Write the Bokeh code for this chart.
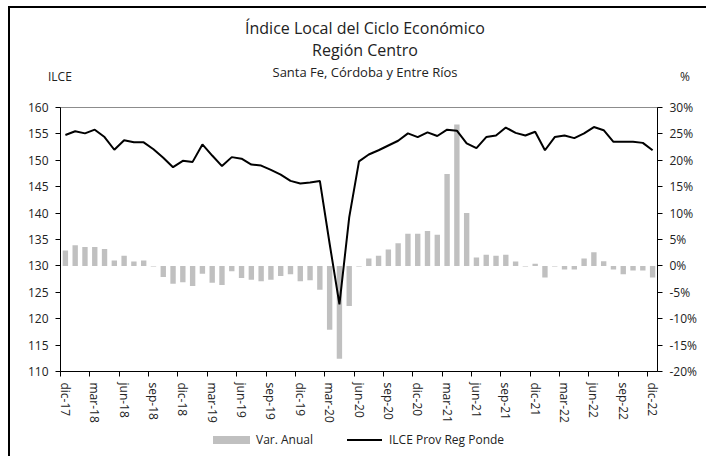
from bokeh.plotting import figure
from bokeh.layouts import column
from bokeh.models import (Range1d, LinearAxis, FixedTicker,
                          CustomJSTickFormatter, Div)
from bokeh.embed import file_html
from bokeh.resources import INLINE

# ---- data -------------------------------------------------------------
tick_labels = ["dic-17", "mar-18", "jun-18", "sep-18", "dic-18", "mar-19",
               "jun-19", "sep-19", "dic-19", "mar-20", "jun-20", "sep-20",
               "dic-20", "mar-21", "jun-21", "sep-21", "dic-21", "mar-22",
               "jun-22", "sep-22", "dic-22"]

# Var. Anual (%), monthly dic-17 .. dic-22
var_anual = [2.9, 3.9, 3.6, 3.6, 3.2, 1.0, 1.9, 0.85, 1.0, -0.1,
             -2.1, -3.4, -3.1, -3.8, -1.5, -3.2, -3.6, -1.0, -2.3, -2.6,
             -2.9, -2.6, -1.9, -1.6, -2.9, -2.7, -4.5, -12.1, -17.6, -7.6,
             -0.1, 1.4, 1.9, 3.1, 4.3, 6.1, 6.1, 6.6, 5.9, 17.4,
             26.8, 10.0, 1.6, 2.1, 1.9, 2.1, 0.85, -0.1, 0.4, -2.2,
             -0.1, -0.7, -0.7, 1.4, 2.6, 0.9, -0.7, -1.6, -0.85, -0.85, -2.2]

# ILCE Prov Reg Ponde (index)
ilce = [154.8, 155.5, 155.1, 155.8, 154.4, 152.0, 153.8, 153.4, 153.4, 152.1,
        150.5, 148.7, 149.9, 149.7, 153.0, 150.9, 148.9, 150.6, 150.3, 149.2,
        149.0, 148.2, 147.3, 146.1, 145.6, 145.8, 146.1, 134.2, 122.7, 139.2,
        149.8, 151.1, 151.9, 152.8, 153.7, 155.1, 154.4, 155.3, 154.6, 155.8,
        155.6, 153.2, 152.3, 154.4, 154.7, 156.2, 155.2, 154.7, 155.4, 151.9,
        154.4, 154.7, 154.2, 155.1, 156.3, 155.7, 153.5, 153.5, 153.5, 153.3, 151.9]

title_1 = "Índice Local del Ciclo Económico"
title_2 = "Región Centro"
subtitle = "Santa Fe, Córdoba y Entre Ríos"
left_unit = "ILCE"
right_unit = "%"
series_names = ["Var. Anual", "ILCE Prov Reg Ponde"]

idx = list(range(len(ilce)))
label_pos = list(range(0, len(ilce), 3))

FONT = "Open Sans"
TXT = "#222222"
BAR = "#c0c0c0"
W = 696
HEAD_H = 85
FOOT_H = 30

# ---- header (titles) ---------------------------------------------------
def txt(x, y, text, size, anchor="-50%"):
    return (f'<div style="position:absolute;left:{x}px;top:{y}px;'
            f'transform:translate({anchor},-50%);white-space:nowrap;'
            f'font-size:{size}px;line-height:1;">{text}</div>')

def box(x, y, w, h, color):
    return (f'<div style="position:absolute;left:{x}px;top:{y}px;width:{w}px;'
            f'height:{h}px;background:{color};"></div>')

head_html = (f'<div style="position:relative;width:{W}px;height:{HEAD_H}px;'
             f'font-family:\'{FONT}\';color:{TXT};">'
             + txt(355, 20, title_1, 16)
             + txt(355, 42, title_2, 16)
             + txt(355, 64, subtitle, 13)
             + txt(38, 69, left_unit, 12, "0%")
             + txt(675, 69, right_unit, 12)
             + '</div>')
header = Div(text=head_html, width=W, height=HEAD_H, margin=(0, 0, 0, 0))

# ---- legend (footer) ----------------------------------------------------
foot_html = (f'<div style="position:relative;width:{W}px;height:{FOOT_H}px;'
             f'font-family:\'{FONT}\';color:{TXT};">'
             + box(203, 10, 37, 8, BAR)
             + txt(246, 14, series_names[0], 12, "0%")
             + box(337, 13, 35, 2, "black")
             + txt(379, 14, series_names[1], 12, "0%")
             + '</div>')
footer = Div(text=foot_html, width=W, height=FOOT_H, margin=(0, 0, 0, 0))

# ---- figure -------------------------------------------------------------
p = figure(width=W, height=333, x_range=Range1d(-0.5, 60.5),
           y_range=Range1d(110, 160), output_backend="svg",
           toolbar_location=None, min_border_left=50, min_border_right=49,
           min_border_top=14, min_border_bottom=55, margin=(0, 0, 0, 0))
p.extra_y_ranges = {"pct": Range1d(-20, 30)}
p.xgrid.visible = False
p.ygrid.visible = False
p.outline_line_color = "#8c8c8c"

p.vbar(x=idx, top=var_anual, bottom=0, width=0.55,
       fill_color=BAR, line_color=None, y_range_name="pct")
p.line(x=idx, y=ilce, line_color="black", line_width=2)

# x axis
xa = p.xaxis[0]
xa.ticker = FixedTicker(ticks=label_pos, minor_ticks=[i - 0.5 for i in label_pos])
xa.major_label_overrides = {i: lab for i, lab in zip(label_pos, tick_labels)}
xa.major_label_orientation = "vertical"
xa.major_tick_out = 0
xa.major_tick_in = 0
xa.minor_tick_out = 5
xa.minor_tick_in = 0
xa.major_label_standoff = 6
xa.axis_line_color = "black"
xa.minor_tick_line_color = "black"
xa.major_label_text_font = FONT
xa.major_label_text_font_size = "12px"
xa.major_label_text_color = TXT

# left axis
ya = p.yaxis[0]
ya.ticker = FixedTicker(ticks=list(range(110, 161, 5)))
ya.major_tick_out = 5
ya.major_tick_in = 0
ya.minor_tick_out = 0
ya.minor_tick_in = 0
ya.major_label_standoff = 7
ya.axis_line_color = "black"
ya.major_label_text_font = FONT
ya.major_label_text_font_size = "12px"
ya.major_label_text_color = TXT

# right axis
ra = LinearAxis(y_range_name="pct",
                ticker=FixedTicker(ticks=list(range(-20, 31, 5))),
                formatter=CustomJSTickFormatter(code="return tick.toFixed(0) + '%';"))
ra.major_tick_out = 5
ra.major_tick_in = 0
ra.minor_tick_out = 0
ra.minor_tick_in = 0
ra.major_label_standoff = 7
ra.axis_line_color = "black"
ra.major_label_text_font = FONT
ra.major_label_text_font_size = "12px"
ra.major_label_text_color = TXT
p.add_layout(ra, "right")

layout = column(header, p, footer, spacing=0,
                styles={"margin-left": "8px", "margin-top": "6px",
                        "border-left": "2px solid black",
                        "border-top": "2px solid black"})

open("out.html", "w").write(file_html(layout, INLINE))
